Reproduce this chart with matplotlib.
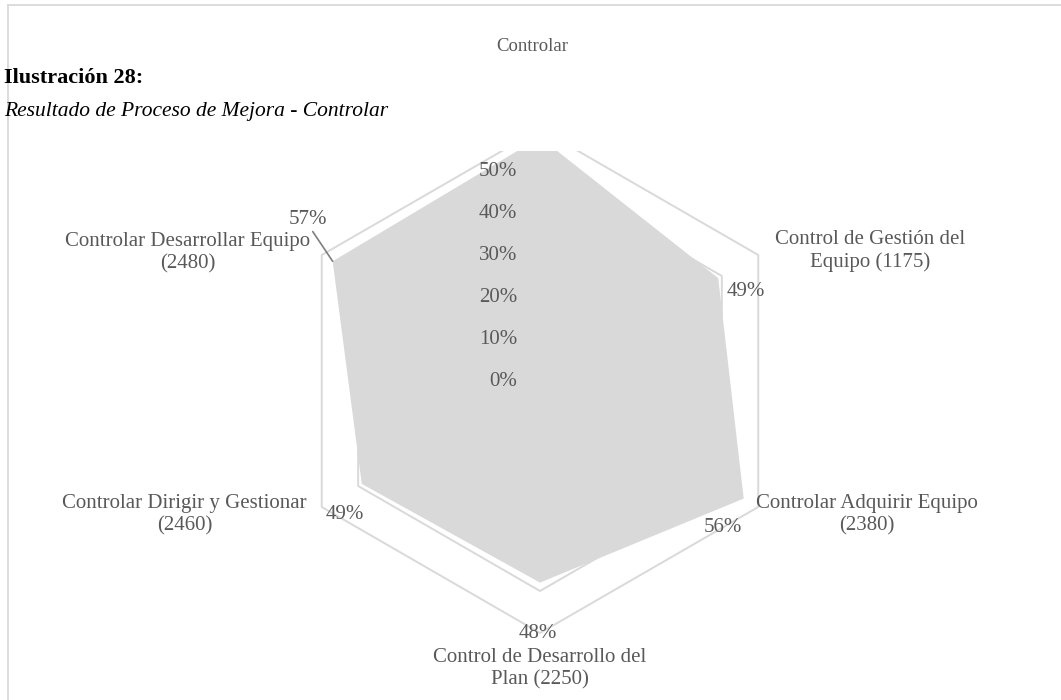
import numpy as np
import matplotlib
matplotlib.use("Agg")
import matplotlib.pyplot as plt
from matplotlib.patches import Rectangle
from matplotlib.lines import Line2D

# ---- data ----
categories = [
    "",
    "Control de Gestión del\nEquipo (1175)",
    "Controlar Adquirir Equipo\n(2380)",
    "Control de Desarrollo del\nPlan (2250)",
    "Controlar Dirigir y Gestionar\n(2460)",
    "Controlar Desarrollar Equipo\n(2480)",
]
values = [0.58, 0.49, 0.56, 0.48, 0.49, 0.57]
value_labels = ["58%", "49%", "56%", "48%", "49%", "57%"]
grid_levels = [0.0, 0.1, 0.2, 0.3, 0.4, 0.5, 0.6]
tick_labels = ["0%", "10%", "20%", "30%", "40%", "50%", "60%"]

chart_title = "Controlar"
caption_number = "Ilustración 28:"
caption_text = "Resultado de Proceso de Mejora - Controlar"

# ---- styling ----
W, H, DPI = 1061, 700, 100
SERIF = ["Liberation Serif", "DejaVu Serif"]
TXT = "#595959"
GRID = "#D9D9D9"
FILL = "#D9D9D9"


def fx(x):
    return x / W


def fy(y):
    return 1 - y / H


fig = plt.figure(figsize=(W / DPI, H / DPI), dpi=DPI)
fig.patch.set_facecolor("white")

# radar area: centre and radius in pixels
cx, cy, R = 540, 381, 252
ax = fig.add_axes([fx(cx - R), fy(cy + R), 2 * R / W, 2 * R / H], projection="polar")
ax.set_theta_offset(np.pi / 2)
ax.set_theta_direction(-1)
ax.set_ylim(0, max(grid_levels))
ax.set_axis_off()

n = len(categories)
theta = np.linspace(0, 2 * np.pi, n, endpoint=False)
theta_c = np.append(theta, theta[0])

# hexagonal gridlines
for lvl in grid_levels[1:]:
    ax.plot(theta_c, [lvl] * (n + 1), color=GRID, lw=1.4, zorder=1, clip_on=False)

# series area
vals_c = np.append(values, values[0])
ax.fill(theta_c, vals_c, color=FILL, zorder=2, lw=0)

# radial tick labels on the vertical axis
for lvl, lab in zip(grid_levels, tick_labels):
    ax.annotate(lab, xy=(0, lvl), xytext=(-23, 0), textcoords="offset pixels",
                ha="right", va="center", fontsize=15, color=TXT,
                family=SERIF, zorder=3, annotation_clip=False)

# category labels around the outer ring (offsets in pixels)
cat_offsets = [(0, 40), (112, 4), (109, -8), (0, -36), (-137, -8), (-134, 2)]
for t, lab, off in zip(theta, categories, cat_offsets):
    ax.annotate(lab, xy=(t, max(grid_levels)), xytext=off, textcoords="offset pixels",
                ha="center", va="center", fontsize=15, color=TXT,
                family=SERIF, linespacing=1.2, annotation_clip=False)

# value labels next to each vertex
val_offsets = [(0, 22), (28, -13), (-21, -29), (-2, -51), (-17, -31), (-25, 42)]
for i, (t, v, lab, off) in enumerate(zip(theta, values, value_labels, val_offsets)):
    kw = {}
    if i == 5:
        kw["arrowprops"] = dict(arrowstyle="-", color="#7F7F7F", lw=1.2,
                                shrinkA=0, shrinkB=0, relpos=(0.6, -0.05))
    ax.annotate(lab, xy=(t, v), xytext=off, textcoords="offset pixels",
                ha="center", va="center", fontsize=15, color=TXT,
                family=SERIF, annotation_clip=False, zorder=4, **kw)

# outer frame
fig.add_artist(Line2D([fx(8), fx(8)], [fy(5), fy(H + 5)], color=GRID, lw=1.3, zorder=6))
fig.add_artist(Line2D([fx(8), fx(W + 5)], [fy(5), fy(5)], color=GRID, lw=1.3, zorder=6))

# caption block laid over the top of the chart
fig.add_artist(Rectangle((fx(10), fy(151)), fx(700) - fx(10), fy(58) - fy(151),
                         transform=fig.transFigure, facecolor="white",
                         edgecolor="none", zorder=8))

fig.text(fx(532), fy(51), chart_title, ha="center", va="baseline",
         fontsize=13.5, color=TXT, family=SERIF, zorder=9)
fig.text(fx(4), fy(83), caption_number, ha="left", va="baseline",
         fontsize=16, fontweight="bold", color="black", family=SERIF, zorder=9)
fig.text(fx(4), fy(116), caption_text, ha="left", va="baseline",
         fontsize=15.5, fontstyle="italic", color="black", family=SERIF, zorder=9)

fig.savefig("out.png", dpi=DPI, facecolor="white")
